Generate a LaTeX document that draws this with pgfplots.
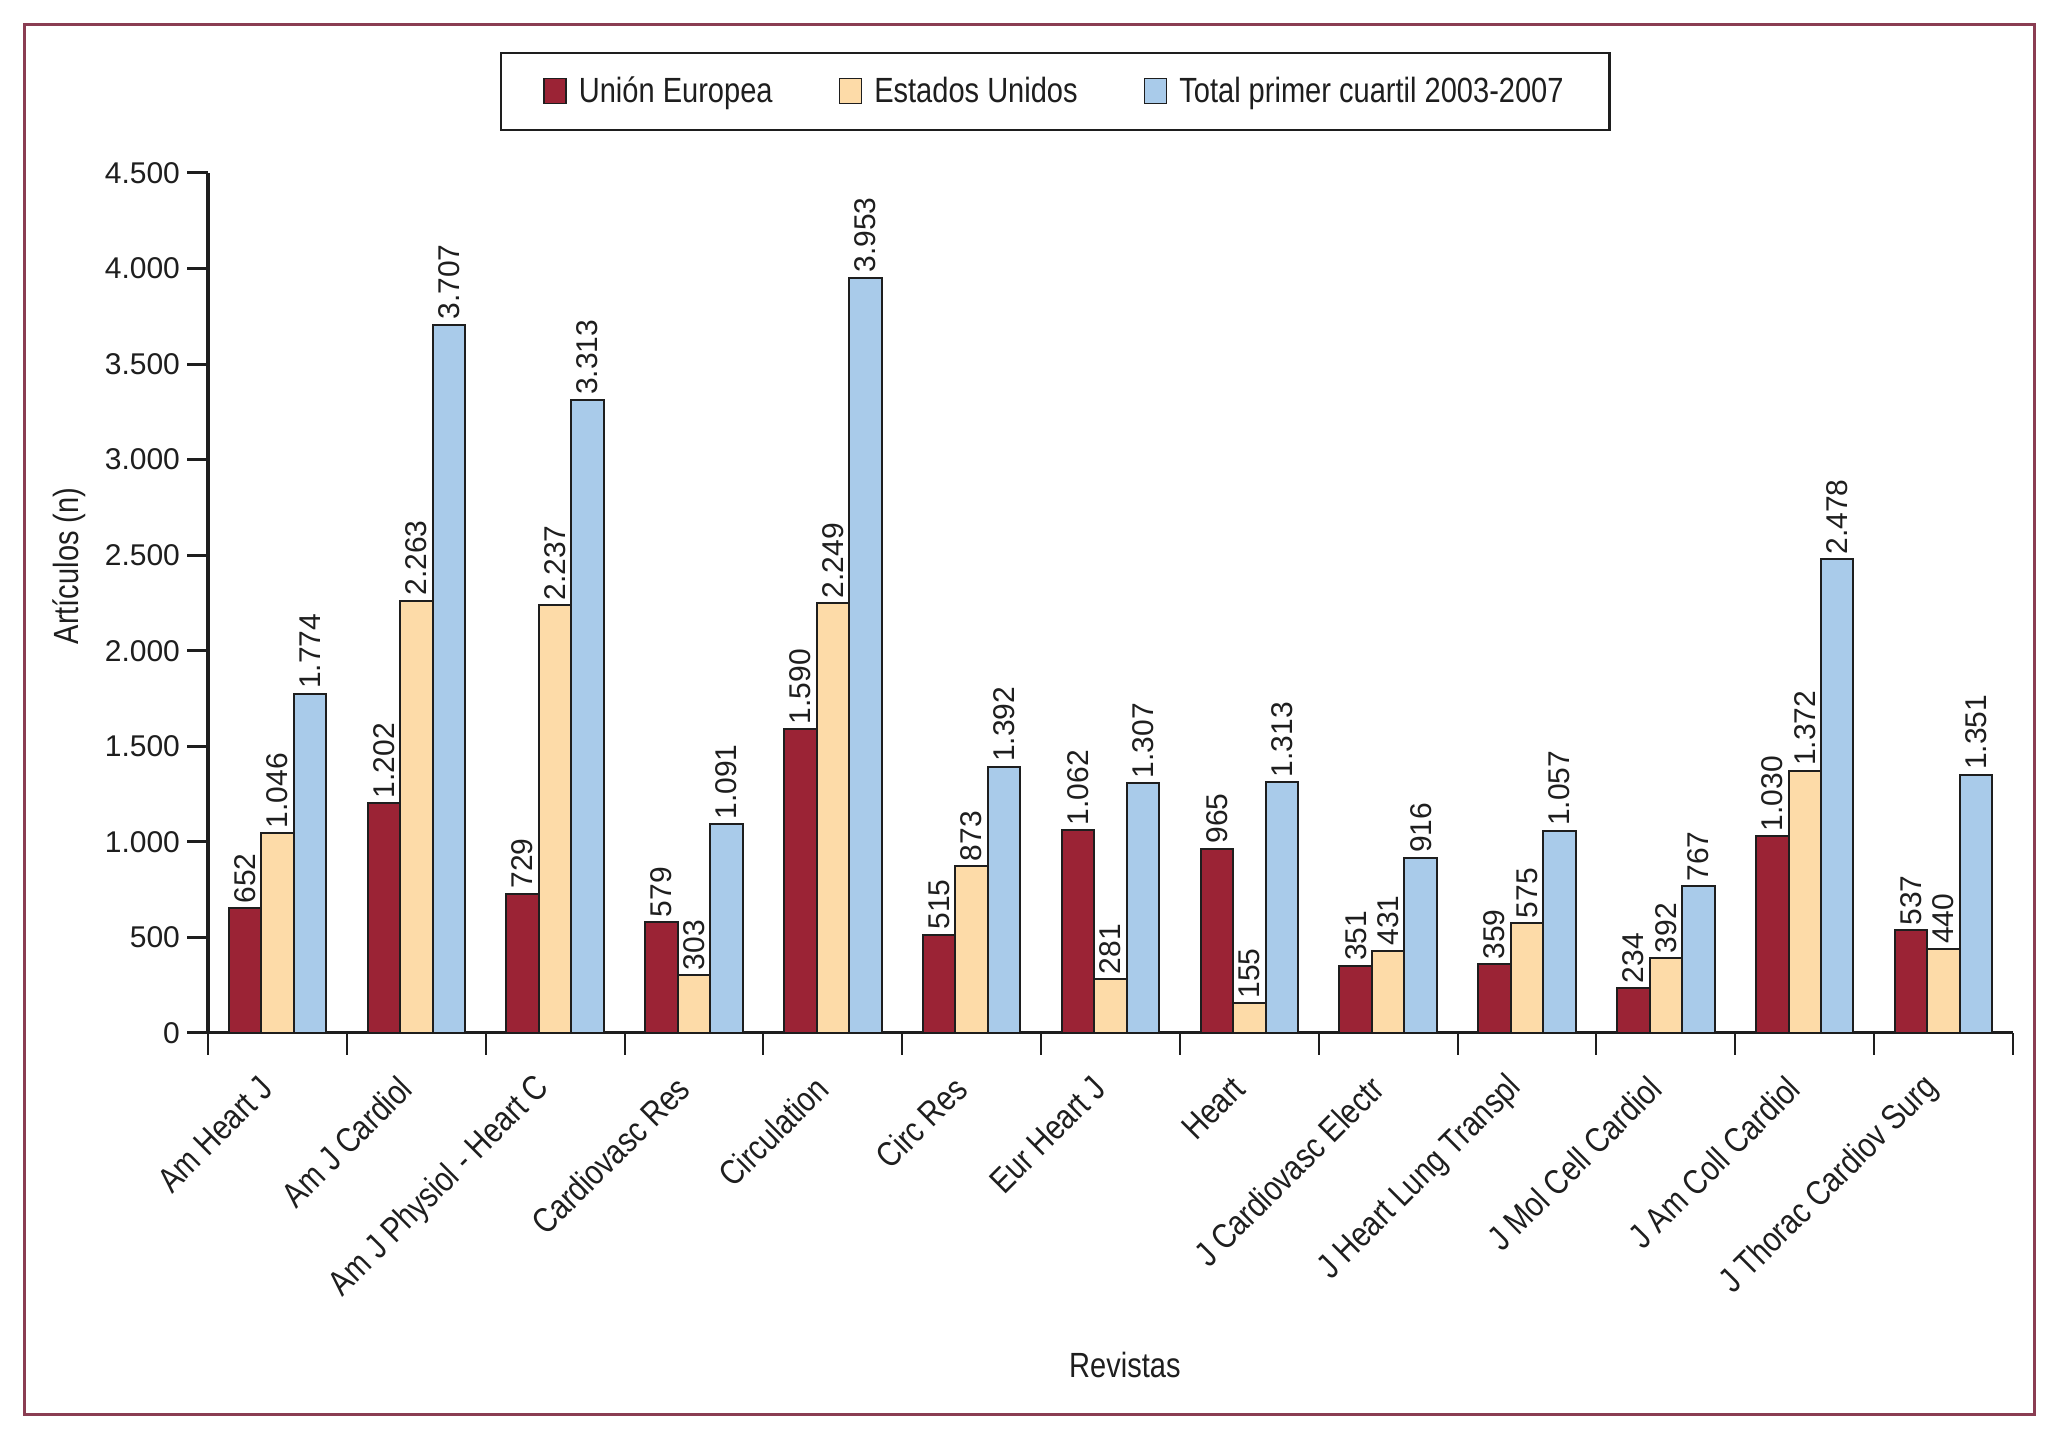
\documentclass[border=0pt]{standalone}
\usepackage{pgfplots}
\pgfplotsset{compat=1.18}
\usepackage{pgfplotstable}
\usepackage{fontspec}
\setmainfont{Liberation Sans}
\newfontfamily\cond[FakeStretch=0.83]{Liberation Sans}
\definecolor{ue}{HTML}{9B2335}
\definecolor{eu}{HTML}{FDDBA8}
\definecolor{tot}{HTML}{A9CBEA}
\definecolor{frame}{HTML}{8A3D52}
\definecolor{ink}{HTML}{1E1E1E}

% articulos por revista: Union Europea, Estados Unidos, total primer cuartil
\pgfplotstableread{
idx ue eu tot
0 652 1046 1774
1 1202 2263 3707
2 729 2237 3313
3 579 303 1091
4 1590 2249 3953
5 515 873 1392
6 1062 281 1307
7 965 155 1313
8 351 431 916
9 359 575 1057
10 234 392 767
11 1030 1372 2478
12 537 440 1351
}\data

\begin{document}
\begin{tikzpicture}
\begin{axis}[
  width=902.5pt, height=430pt, scale only axis,
  at={(0,0)}, anchor=south west,
  xmin=-0.5, xmax=12.5, ymin=0, ymax=4500,
  ybar, bar width=0.234, clip=false,
  axis x line*=bottom, axis y line*=left,
  axis line style={-, ink},
  x axis line style={line width=1.5pt},
  y axis line style={line width=2pt},
  tick align=outside,
  major tick length=10.5pt, minor tick length=11pt,
  ytick={0,500,...,4500},
  ytick style={line width=1.5pt, ink},
  scaled y ticks=false,
  xtick={0,...,12},
  major x tick style={draw=none},
  minor xtick={-0.5,0.5,...,12.5},
  minor x tick style={line width=1pt, ink},
  xticklabels={Am Heart J, Am J Cardiol, Am J Physiol - Heart C, Cardiovasc Res, Circulation, Circ Res, Eur Heart J, Heart, J Cardiovasc Electr, J Heart Lung Transpl, J Mol Cell Cardiol, J Am Coll Cardiol, J Thorac Cardiov Surg},
  xticklabel style={font=\cond\fontsize{17.5pt}{18pt}\selectfont, xshift=-3pt, yshift=-12pt, rotate=45, anchor=east, text=ink},
  yticklabel style={font=\fontsize{15pt}{15pt}\selectfont, text=ink},
  /pgf/number format/.cd, 1000 sep={.}, assume math mode=true, /pgfplots/.cd,
  ylabel={Artículos (n)},
  ylabel style={at={(axis description cs:-0.077,0.543)}, anchor=center, font=\cond\fontsize{17.5pt}{18pt}\selectfont, text=ink},
  xlabel={Revistas},
  xlabel style={at={(axis description cs:0.508,-0.386)}, anchor=center, font=\cond\fontsize{17.5pt}{18pt}\selectfont, text=ink},
  nodes near coords,
  every node near coord/.append style={rotate=90, anchor=west, font=\fontsize{15pt}{15pt}\selectfont, text=ink, inner sep=2pt},
  legend columns=3, legend cell align=left,
  legend style={at={(0.4695,1.0948)}, anchor=center, draw=ink, line width=1.2pt,
    font=\cond\fontsize{17.5pt}{18pt}\selectfont, text=ink, inner xsep=21pt, inner ysep=10pt,
    /tikz/every odd column/.append style={column sep=4pt},
    /tikz/every even column/.append style={column sep=31pt}},
  legend image code/.code={\draw[#1, line width=0.8pt, draw=ink] (0pt,-6pt) rectangle (11pt,6.5pt);},
]
\addplot[fill=ue, draw=ink, line width=1pt, bar shift=-0.234] table[x=idx,y=ue]{\data};
\addplot[fill=eu, draw=ink, line width=1pt, bar shift=0] table[x=idx,y=eu]{\data};
\addplot[fill=tot, draw=ink, line width=1pt, bar shift=0.234] table[x=idx,y=tot]{\data};
\legend{Unión Europea, Estados Unidos, Total primer cuartil 2003-2007}
\end{axis}
\draw[frame, line width=1.5pt] (-91.5pt,-191pt) rectangle (913pt,504pt);
\path (-104pt,-198pt) rectangle (927pt,516.5pt);
\end{tikzpicture}
\end{document}
